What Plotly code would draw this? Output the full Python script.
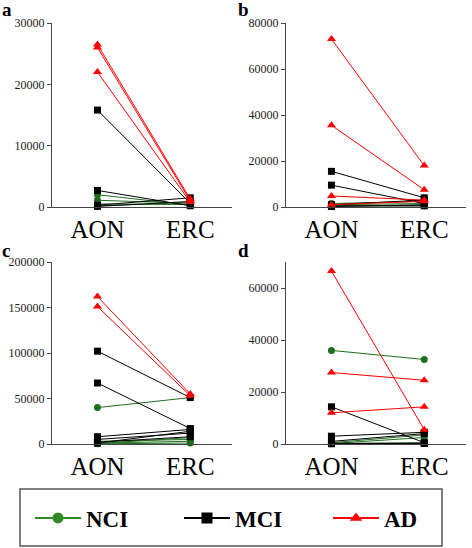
import plotly.graph_objects as go

regions = ["AON", "ERC"]
panel_labels = ["a", "b", "c", "d"]
group_names = ["NCI", "MCI", "AD"]

# panel a
a_nci_aon = [2000, 1100, 500, 200]
a_nci_erc = [300, 600, 400, 700]
a_mci_aon = [15800, 2700, 300, 100]
a_mci_erc = [600, 200, 1500, 900]
a_ad_aon = [26500, 26000, 22000]
a_ad_erc = [1300, 1000, 800]

# panel b
b_nci_aon = [1500, 1000, 500]
b_nci_erc = [2500, 1500, 500]
b_mci_aon = [15500, 9500, 1000, 500, 200]
b_mci_erc = [4000, 1500, 3000, 500, 1000]
b_ad_aon = [73000, 35500, 4800, 1000]
b_ad_erc = [18000, 7500, 3000, 2500]

# panel c
c_nci_aon = [40000, 3000, 1000, 500, 200]
c_nci_erc = [51000, 5000, 3000, 7000, 1000]
c_mci_aon = [102000, 67000, 8000, 5000, 2000, 1000]
c_mci_erc = [51000, 17000, 16000, 12000, 8000, 14000]
c_ad_aon = [162000, 151000]
c_ad_erc = [55000, 53000]

# panel d
d_nci_aon = [36000, 500, 200, 100]
d_nci_erc = [32500, 3500, 2500, 500]
d_mci_aon = [14300, 3000, 1000, 300, 100]
d_mci_erc = [500, 4500, 4000, 200, 300]
d_ad_aon = [66500, 27500, 12000]
d_ad_erc = [5500, 24500, 14300]

y_max = [30000, 80000, 200000, 70000]
y_dtick = [10000, 20000, 50000, 20000]

panels = [
    [(a_nci_aon, a_nci_erc), (a_mci_aon, a_mci_erc), (a_ad_aon, a_ad_erc)],
    [(b_nci_aon, b_nci_erc), (b_mci_aon, b_mci_erc), (b_ad_aon, b_ad_erc)],
    [(c_nci_aon, c_nci_erc), (c_mci_aon, c_mci_erc), (c_ad_aon, c_ad_erc)],
    [(d_nci_aon, d_nci_erc), (d_mci_aon, d_mci_erc), (d_ad_aon, d_ad_erc)],
]

line_colors = ["#1e6e1e", "#000000", "#ff0000"]
marker_colors = ["#1e6e1e", "#000000", "#ff0000"]
legend_colors = ["#2e8b22", "#000000", "#ff0000"]
symbols = ["circle", "square", "triangle-up"]
msizes = [7, 7, 8]

W, H = 472, 548
SERIF = "Liberation Serif"

def px_x(p):
    return p / W

def px_y(p):
    return 1 - p / H

x_domains = [[px_x(52), px_x(232)], [px_x(286), px_x(466)]] * 2
y_domains = [[px_y(207), px_y(23)]] * 2 + [[px_y(444), px_y(262)]] * 2

fig = go.Figure()

for i, groups in enumerate(panels):
    ax = "" if i == 0 else str(i + 1)
    for g, (aon, erc) in enumerate(groups):
        for v0, v1 in zip(aon, erc):
            fig.add_trace(go.Scatter(
                x=regions, y=[v0, v1], mode="lines+markers",
                line=dict(color=line_colors[g], width=1),
                marker=dict(symbol=symbols[g], size=msizes[g], color=marker_colors[g]),
                showlegend=False, cliponaxis=False,
                xaxis="x" + ax, yaxis="y" + ax,
            ))

for g in range(3):
    fig.add_trace(go.Scatter(
        x=[None], y=[None], mode="lines+markers", name=group_names[g],
        line=dict(color=legend_colors[g], width=2),
        marker=dict(symbol=symbols[g], size=11, color=legend_colors[g]),
        showlegend=True, xaxis="x", yaxis="y",
    ))

layout = dict(
    width=W, height=H, margin=dict(l=0, r=0, t=0, b=0, pad=0, autoexpand=False),
    plot_bgcolor="white", paper_bgcolor="white",
    font=dict(family=SERIF, color="black"),
    legend=dict(
        orientation="h", x=px_x(30), xanchor="left", y=px_y(518), yanchor="middle",
        font=dict(family=SERIF, size=23, color="black", weight="bold"),
        bgcolor="rgba(0,0,0,0)", borderwidth=0,
        itemwidth=46, entrywidth=88, entrywidthmode="pixels",
        itemclick=False,
    ),
    shapes=[dict(type="rect", xref="paper", yref="paper",
                 x0=px_x(20), x1=px_x(442), y0=px_y(546), y1=px_y(489),
                 line=dict(color="#555555", width=1.5))],
    annotations=[],
)

label_pos = [(0, -3), (236, -3), (0, 238), (236, 238)]
for i in range(4):
    ax = "" if i == 0 else str(i + 1)
    layout["xaxis" + ax] = dict(
        domain=x_domains[i], anchor="y" + ax, type="category",
        categoryorder="array", categoryarray=regions,
        range=[-0.49, 1.45], showline=True, linecolor="#444444", linewidth=1,
        ticks="", showgrid=False, zeroline=False, automargin=False,
        tickfont=dict(family=SERIF, size=25, color="black"), fixedrange=True,
    )
    layout["yaxis" + ax] = dict(
        domain=y_domains[i], anchor="x" + ax,
        range=[0, y_max[i]], dtick=y_dtick[i], tick0=0,
        showline=True, linecolor="#444444", linewidth=1,
        ticks="outside", ticklen=4, tickcolor="#444444", automargin=False,
        showgrid=False, zeroline=False, tickformat="d",
        tickfont=dict(family=SERIF, size=12, color="#222222"),
    )
    lx, ly = label_pos[i]
    layout["annotations"].append(dict(
        text="<b>" + panel_labels[i] + "</b>", xref="paper", yref="paper",
        x=px_x(lx), y=px_y(ly), xanchor="left", yanchor="top", showarrow=False,
        font=dict(family=SERIF, size=19, color="black"),
    ))

fig.update_layout(**layout)
fig.write_html("out.html", config={"displayModeBar": False},
               post_script="document.body.style.margin='0';document.body.style.padding='0';")
